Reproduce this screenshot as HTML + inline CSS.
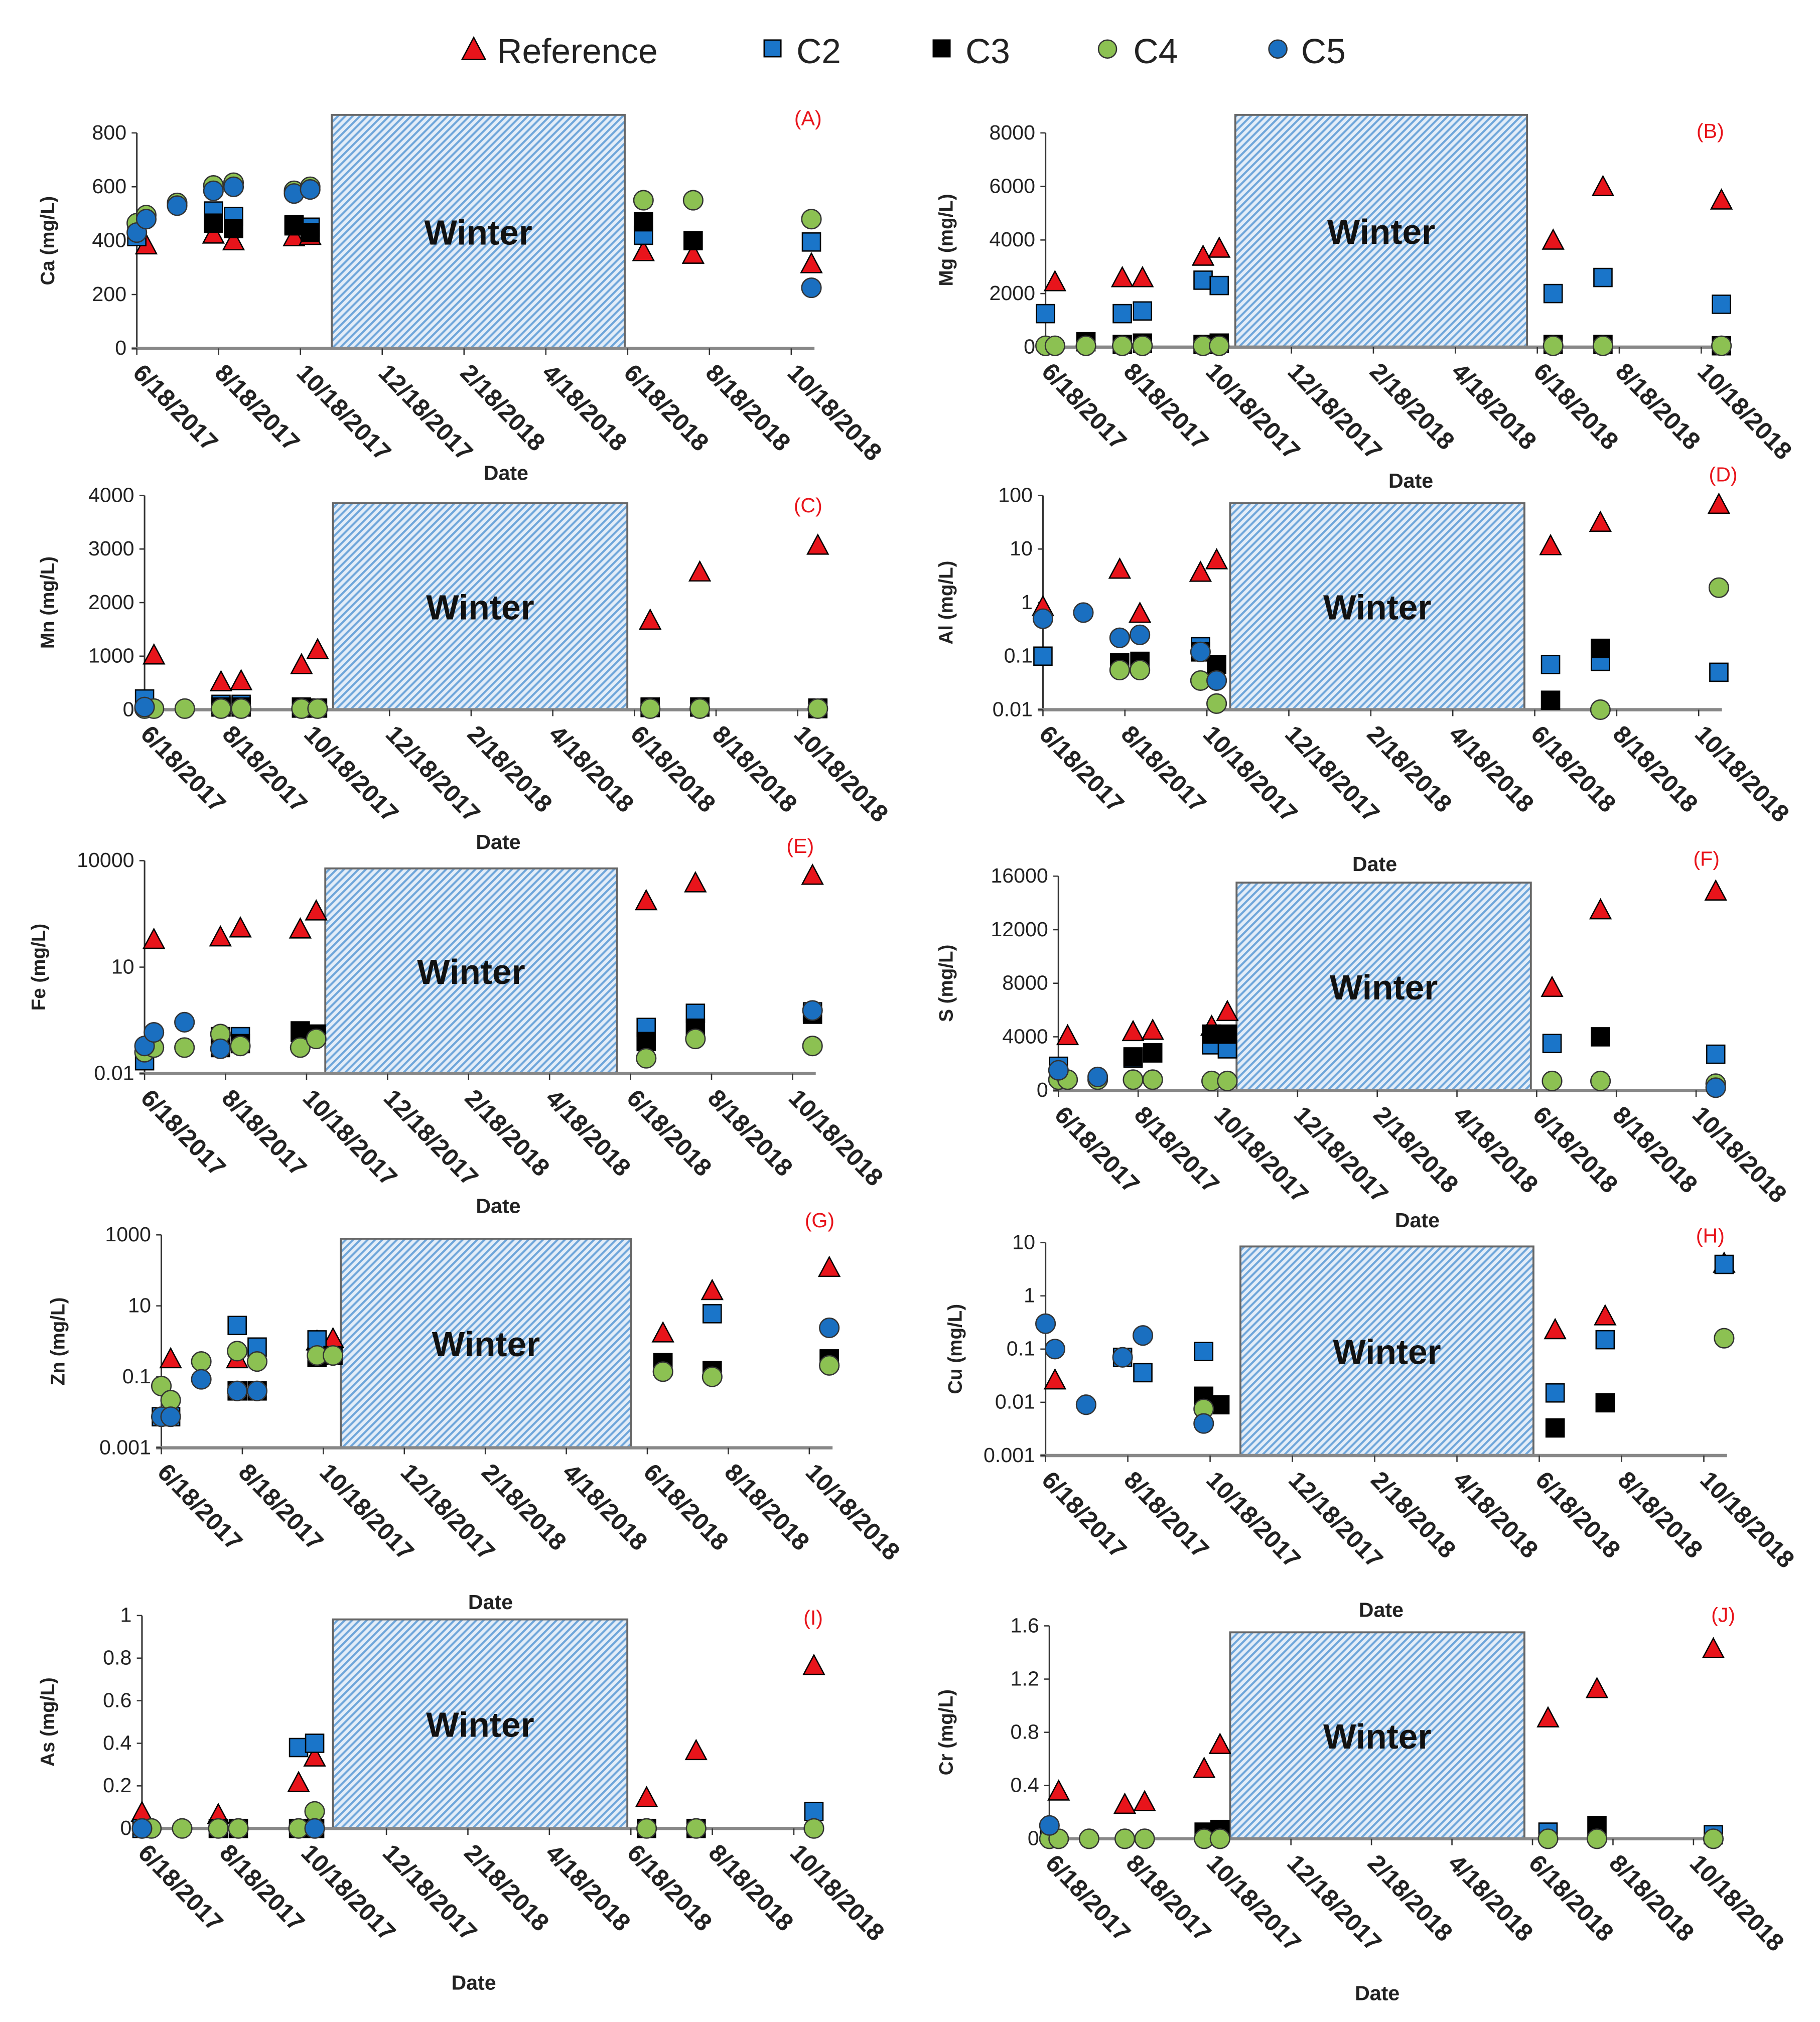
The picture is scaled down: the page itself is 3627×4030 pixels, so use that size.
<!DOCTYPE html>
<html><head><meta charset="utf-8"><style>
html,body{margin:0;padding:0;background:#fff;}
svg{display:block;font-family:"Liberation Sans",sans-serif;}
</style></head><body>
<svg id="chart" width="3627" height="4030" viewBox="0 0 1410 1567" preserveAspectRatio="none" xmlns="http://www.w3.org/2000/svg">
<defs>
<pattern id="hatch" patternUnits="userSpaceOnUse" width="4" height="4" patternTransform="rotate(45)">
<rect width="4" height="4" fill="#e3edf8"/><rect width="1.6" height="4" fill="#6fa6da"/>
</pattern>
</defs>
<g id="legend">
<polygon points="367,29 376,46 358,46" fill="#e8141b" stroke="#000" stroke-width="1"/>
<text x="385" y="49" font-size="27" fill="#222">Reference</text>
<rect x="592" y="31" width="13" height="13" fill="#1a75c9" stroke="#000"/>
<text x="617" y="49" font-size="27" fill="#222">C2</text>
<rect x="723" y="31" width="13" height="13" fill="#000" stroke="#000"/>
<text x="748" y="49" font-size="27" fill="#222">C3</text>
<circle cx="858" cy="38" r="7" fill="#8cc152" stroke="#333"/>
<text x="878" y="49" font-size="27" fill="#222">C4</text>
<circle cx="990" cy="38" r="7" fill="#1a6fc0" stroke="#333"/>
<text x="1008" y="49" font-size="27" fill="#222">C5</text>
</g>
</svg>
<script>
// sampling days since 6/18/2017
const sampleDays = [0, 7, 30, 57, 72, 117, 129, 377, 414, 502];
const xTickLabels = ["6/18/2017","8/18/2017","10/18/2017","12/18/2017","2/18/2018","4/18/2018","6/18/2018","8/18/2018","10/18/2018"];
const N = null;
// (A) Ca
const caTicks = [0,200,400,600,800];
const caRef = [N,380,N,420,395,410,415,355,345,310];
const caC2  = [415,N,N,510,490,455,450,420,N,395];
const caC3  = [N,N,N,465,445,460,430,470,400,N];
const caC4  = [465,495,540,605,615,585,600,550,550,480];
const caC5  = [430,480,530,585,600,575,590,N,N,225];
// (B) Mg
const mgTicks = [0,2000,4000,6000,8000];
const mgRef = [N,2400,N,2550,2550,3350,3650,3950,5950,5450];
const mgC2  = [1250,N,N,1250,1350,2500,2300,2000,2600,1600];
const mgC3  = [N,N,200,100,150,100,150,100,100,50];
const mgC4  = [50,50,50,50,50,50,50,50,50,50];
const mgC5  = [N,N,N,N,N,N,N,N,N,N];
// (C) Mn
const mnTicks = [0,1000,2000,3000,4000];
const mnRef = [N,1000,N,500,520,820,1100,1650,2550,3050];
const mnC2  = [200,N,N,100,100,50,N,50,50,30];
const mnC3  = [N,N,N,50,50,30,30,40,50,20];
const mnC4  = [20,20,20,20,20,20,20,20,20,20];
const mnC5  = [50,N,N,N,N,N,N,N,N,N];
// (D) Al (log)
const alTicks = [0.01,0.1,1,10,100];
const alRef = [0.8,N,N,4,0.6,3.5,6,11,30,65];
const alC2  = [0.1,N,N,N,N,0.15,N,0.07,0.08,0.05];
const alC3  = [N,N,N,0.075,0.08,0.12,0.07,0.015,0.14,N];
const alC4  = [N,N,N,0.055,0.055,0.035,0.013,N,0.01,1.9];
const alC5  = [0.5,N,0.65,0.22,0.25,0.12,0.035,N,N,N];
// (E) Fe (log)
const feTicks = [0.01,10,10000];
const feRef = [N,56,N,66,118,110,355,690,2200,3600];
const feC2  = [0.023,N,N,0.11,0.11,0.145,N,0.2,0.5,0.55];
const feC3  = [N,N,N,0.054,0.07,0.16,0.13,0.08,0.19,0.47];
const feC4  = [0.04,0.054,0.054,0.13,0.06,0.054,0.095,0.027,0.095,0.06];
const feC5  = [0.06,0.145,0.28,0.05,N,N,N,N,N,0.6];
// (F) S
const sTicks = [0,4000,8000,12000,16000];
const sRef = [N,4000,N,4300,4400,4700,5800,7600,13400,14800];
const sC2  = [1800,N,N,2400,2800,3400,3100,3500,N,2700];
const sC3  = [N,N,N,2500,2800,4200,4200,N,4000,N];
const sC4  = [800,800,800,800,800,700,700,700,700,500];
const sC5  = [1500,N,1000,N,N,N,N,N,N,200];
// (G) Zn (log)
const znTicks = [0.001,0.1,10,1000];
const znRef = [N,0.3,N,0.3,N,0.95,1.1,1.6,25,112];
const znC2  = [0.0075,0.0075,N,2.8,0.69,1.1,N,0.2,6,0.32];
const znC3  = [N,N,N,0.04,0.04,0.35,0.4,0.25,0.15,0.3];
const znC4  = [0.055,0.022,0.27,0.53,0.27,0.4,0.4,0.14,0.1,0.21];
const znC5  = [0.0075,0.0075,0.085,0.04,0.04,N,N,N,N,2.4];
// (H) Cu (log)
const cuTicks = [0.001,0.01,0.1,1,10];
const cuRef = [N,0.025,N,N,N,N,N,0.22,0.4,3.9];
const cuC2  = [N,N,N,0.07,0.036,0.09,N,0.015,0.15,3.9];
const cuC3  = [N,N,N,N,N,0.013,0.009,0.0033,0.0098,N];
const cuC4  = [N,N,N,N,N,0.0075,N,N,N,0.16];
const cuC5  = [0.3,0.1,0.009,0.07,0.18,0.004,N,N,N,N];
// (I) As
const asTicks = [0,0.2,0.4,0.6,0.8,1];
const asRef = [0.07,N,N,0.06,N,0.21,0.33,0.14,0.36,0.76];
const asC2  = [0,N,N,N,N,0.38,0.4,N,N,0.08];
const asC3  = [N,N,N,0,0,0,0,0,0,N];
const asC4  = [0,0,0,0,0,0,0.08,0,0,0];
const asC5  = [0,N,N,N,N,N,0,N,N,N];
// (J) Cr
const crTicks = [0,0.4,0.8,1.2,1.6];
const crRef = [N,0.35,N,0.25,0.27,0.52,0.7,0.9,1.12,1.42];
const crC2  = [0.05,N,N,N,N,N,N,0.05,N,0.03];
const crC3  = [N,N,N,N,N,0.05,0.07,N,0.1,N];
const crC4  = [0,0,0,0,0,0,0,0,0,0];
const crC5  = [0.1,N,N,N,N,N,N,N,N,N];

const panels = [
 {id:"a",tag:"(A)",yl:"Ca (mg/L)",ticks:caTicks,s:[caRef,caC2,caC3,caC4,caC5],log:false,x0:106,x1:613,y0:270,y1:103,w0:257,w1:484,wt:89,tx:626,ty:97,dx:392,dy:372,ylx:42},
 {id:"b",tag:"(B)",yl:"Mg (mg/L)",ticks:mgTicks,s:[mgRef,mgC2,mgC3,mgC4,mgC5],log:false,x0:810,x1:1318,y0:269,y1:103,w0:957,w1:1183,wt:89,tx:1325,ty:107,dx:1093,dy:378,ylx:738},
 {id:"c",tag:"(C)",yl:"Mn (mg/L)",ticks:mnTicks,s:[mnRef,mnC2,mnC3,mnC4,mnC5],log:false,x0:112,x1:618,y0:550,y1:384,w0:258,w1:486,wt:390,tx:626,ty:397,dx:386,dy:658,ylx:42},
 {id:"d",tag:"(D)",yl:"Al (mg/L)",ticks:alTicks,s:[alRef,alC2,alC3,alC4,alC5],log:true,x0:808,x1:1316,y0:550,y1:384,w0:953,w1:1181,wt:390,tx:1335,ty:373,dx:1065,dy:675,ylx:738},
 {id:"e",tag:"(E)",yl:"Fe (mg/L)",ticks:feTicks,s:[feRef,feC2,feC3,feC4,feC5],log:true,x0:112,x1:614,y0:832,y1:667,w0:252,w1:478,wt:673,tx:620,ty:661,dx:386,dy:940,ylx:35},
 {id:"f",tag:"(F)",yl:"S (mg/L)",ticks:sTicks,s:[sRef,sC2,sC3,sC4,sC5],log:false,x0:820,x1:1314,y0:845,y1:679,w0:958,w1:1186,wt:684,tx:1322,ty:671,dx:1098,dy:951,ylx:738},
 {id:"g",tag:"(G)",yl:"Zn (mg/L)",ticks:znTicks,s:[znRef,znC2,znC3,znC4,znC5],log:true,x0:125,x1:627,y0:1122,y1:957,w0:264,w1:489,wt:960,tx:635,ty:951,dx:380,dy:1247,ylx:50},
 {id:"h",tag:"(H)",yl:"Cu (mg/L)",ticks:cuTicks,s:[cuRef,cuC2,cuC3,cuC4,cuC5],log:true,x0:810,x1:1320,y0:1128,y1:963,w0:961,w1:1188,wt:966,tx:1325,ty:963,dx:1070,dy:1253,ylx:745},
 {id:"i",tag:"(I)",yl:"As (mg/L)",ticks:asTicks,s:[asRef,asC2,asC3,asC4,asC5],log:false,x0:110,x1:615,y0:1417,y1:1252,w0:258,w1:486,wt:1255,tx:630,ty:1259,dx:367,dy:1542,ylx:42},
 {id:"j",tag:"(J)",yl:"Cr (mg/L)",ticks:crTicks,s:[crRef,crC2,crC3,crC4,crC5],log:false,x0:813,x1:1312,y0:1425,y1:1260,w0:953,w1:1181,wt:1265,tx:1335,ty:1257,dx:1067,dy:1550,ylx:738}
];
const seriesNames = ["reference","c2","c3","c4","c5"];
const NS = "http://www.w3.org/2000/svg";
const svg = document.getElementById("chart");
function mk(tag, attrs, parent){
  const e = document.createElementNS(NS, tag);
  for (const k in attrs) e.setAttribute(k, attrs[k]);
  (parent||svg).appendChild(e);
  return e;
}
function fmt(v){ return String(v); }
panels.forEach(p => {
  const g = mk("g", {});
  
  
  const tmin = p.ticks[0], tmax = p.ticks[p.ticks.length-1];
  const ys = v => {
    if (p.log) {
      const vv = Math.max(v, tmin);
      return p.y0 - (Math.log10(vv) - Math.log10(tmin)) / (Math.log10(tmax) - Math.log10(tmin)) * (p.y0 - p.y1);
    }
    return p.y0 - (v - tmin) / (tmax - tmin) * (p.y0 - p.y1);
  };
  const xs = d => p.x0 + d / 487 * (p.x1 - p.x0);
  const wb = mk("rect", {x:p.w0, y:p.wt, width:p.w1-p.w0, height:p.y0-p.wt, fill:"url(#hatch)", stroke:"#666", "stroke-width":1.5}, g);
  
  
  const wt = mk("text", {x:(p.w0+p.w1)/2, y:(p.wt+p.y0)/2+10, "text-anchor":"middle", "font-size":27, "font-weight":"bold", fill:"#111"}, g);
  wt.textContent = "Winter";
  
  
  const ya = mk("line", {x1:p.x0, x2:p.x0, y1:p.y1, y2:p.y0, stroke:"#333", "stroke-width":1.2}, g);
  
  
  const xa = mk("line", {x1:p.x0-4, x2:p.x1+18, y1:p.y0, y2:p.y0, stroke:"#888", "stroke-width":2.5}, g);
  
  
  p.ticks.forEach(t => {
    const y = ys(t);
    const tl = mk("line", {x1:p.x0-4, x2:p.x0, y1:y, y2:y, stroke:"#333"}, g);
    
    
    const tt = mk("text", {x:p.x0-8, y:y+5, "text-anchor":"end", "font-size":16, fill:"#222"}, g);
    tt.textContent = fmt(t);
    
    
  });
  xTickLabels.forEach((lab, i) => {
    const x = p.x0 + i * (p.x1 - p.x0) / 8;
    const tk = mk("line", {x1:x, x2:x, y1:p.y0, y2:p.y0+5, stroke:"#333"}, g);
    
    
    const lx = x - 4, ly = p.y0 + 20;
    const tx = mk("text", {x:lx, y:ly, "font-size":19, "font-weight":"bold", fill:"#222", transform:`rotate(46 ${lx} ${ly})`}, g);
    tx.textContent = lab;
    
    
  });
  const yt = mk("text", {x:p.ylx, y:(p.y0+p.y1)/2, "text-anchor":"middle", "font-size":15, "font-weight":"bold", fill:"#222", transform:`rotate(-90 ${p.ylx} ${(p.y0+p.y1)/2})`}, g);
  yt.textContent = p.yl;
  
  
  const dt = mk("text", {x:p.dx, y:p.dy, "text-anchor":"middle", "font-size":16, "font-weight":"bold", fill:"#222"}, g);
  dt.textContent = "Date";
  
  
  const pl = mk("text", {x:p.tx, y:p.ty, "text-anchor":"middle", "font-size":16, fill:"#e8141b"}, g);
  pl.textContent = p.tag;
  
  
  p.s.forEach((arr, si) => {
    arr.forEach((v, i) => {
      if (v === null) return;
      const x = xs(sampleDays[i]), y = ys(v);
      let m;
      if (si === 0) m = mk("polygon", {points:`${x},${y-9} ${x+8},${y+6} ${x-8},${y+6}`, fill:"#e8141b", stroke:"#000", "stroke-width":1}, g);
      else if (si === 1) m = mk("rect", {x:x-7, y:y-7, width:14, height:14, fill:"#1a75c9", stroke:"#000", "stroke-width":1}, g);
      else if (si === 2) m = mk("rect", {x:x-7, y:y-7, width:14, height:14, fill:"#000", stroke:"#000", "stroke-width":1}, g);
      else if (si === 3) m = mk("circle", {cx:x, cy:y, r:7.5, fill:"#8cc152", stroke:"#333", "stroke-width":1}, g);
      else m = mk("circle", {cx:x, cy:y, r:7.5, fill:"#1a6fc0", stroke:"#333", "stroke-width":1}, g);
      
      
    });
  });
});
</script>
</body></html>
